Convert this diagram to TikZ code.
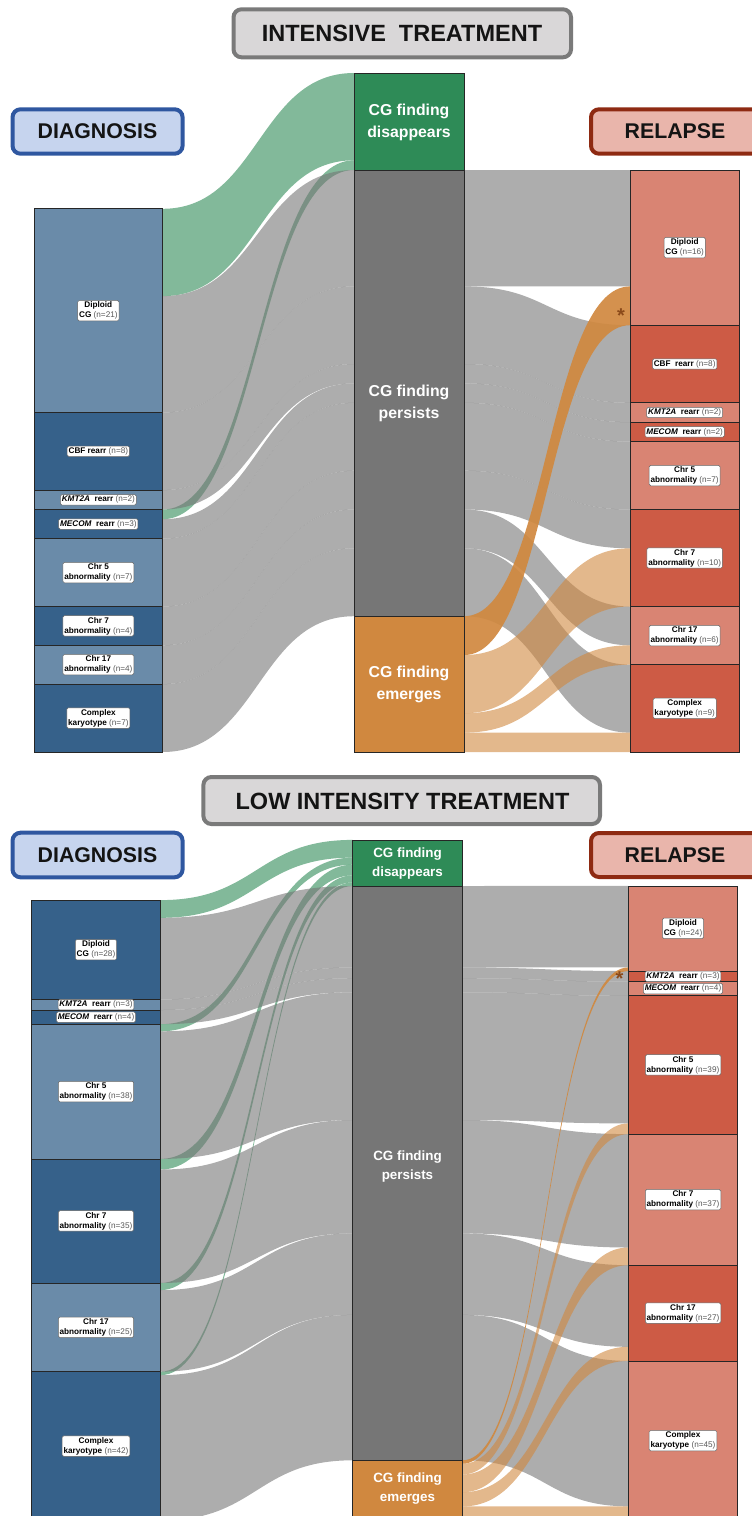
\documentclass[tikz,border=0pt]{standalone}
\usepackage{fontspec}
\setmainfont{Liberation Sans}
\definecolor{lblue}{HTML}{6A8BA9}
\definecolor{dblue}{HTML}{36618A}
\definecolor{lred}{HTML}{D98473}
\definecolor{dred}{HTML}{CD5B45}
\definecolor{cgreen}{HTML}{2E8B57}
\definecolor{cgray}{HTML}{767676}
\definecolor{corange}{HTML}{D0883F}
\definecolor{hgrayf}{HTML}{D9D7D8}
\definecolor{hgrayd}{HTML}{7A7A7A}
\definecolor{hbluef}{HTML}{C6D4EE}
\definecolor{hblued}{HTML}{2F57A0}
\definecolor{hredf}{HTML}{E9B5AB}
\definecolor{hredd}{HTML}{8E2A12}
\definecolor{starc}{HTML}{8B4A1A}
\newcommand{\nn}[1]{{\mdseries\color{black!65}(n=#1)}}
\newcommand{\FL}[5]{%
  \fill[#5] (\fxa,#1) .. controls (\fxm,#1) and (\fxm,#3) .. (\fxb,#3) -- (\fxb,#4) .. controls (\fxm,#4) and (\fxm,#2) .. (\fxa,#2) -- cycle;}
\begin{document}
\begin{tikzpicture}[x=1pt,y=-1pt,
  stratum/.style={draw=black!85, line width=0.7},
  lab/.style={fill=white, draw=black!60, line width=0.5, rounded corners=1.5, inner sep=1.4,
    font=\fontsize{8.2}{10}\selectfont\bfseries, align=center, text=black},
  midtop/.style={text=white, font=\fontsize{15.8}{22}\selectfont\bfseries, align=center},
  midbot/.style={text=white, font=\fontsize{13.4}{19}\selectfont\bfseries, align=center},
  hdrbox/.style={rounded corners=8, line width=4},
  ttl/.style={font=\fontsize{23.5}{26}\selectfont\bfseries, text=black!92, inner sep=0},
  hdr/.style={font=\fontsize{21.3}{24}\selectfont\bfseries, text=black!92, inner sep=0},
  startxt/.style={font=\fontsize{20}{20}\selectfont\bfseries, text=starc, inner sep=0},
  gflow/.style={fill=cgreen, fill opacity=0.6},
  pflow/.style={fill=cgray, fill opacity=0.6},
  oflow/.style={fill=corange, fill opacity=0.6},
  dflow/.style={fill=corange, fill opacity=0.92}]
\useasboundingbox (0,0) rectangle (752,1516);
\clip (0,0) rectangle (752,1516);

% ================= TOP PANEL =================
\draw[hdrbox, draw=hgrayd, fill=hgrayf] (233.5,9.3) rectangle (571,57.3);
\node[ttl] (ttitle) at (402,33.3) {INTENSIVE\ \ TREATMENT};
\draw[hdrbox, draw=hblued, fill=hbluef] (12.5,109.3) rectangle (182.6,153.7);
\node[hdr] (tdiag) at (97.5,131.5) {DIAGNOSIS};
\draw[hdrbox, draw=hredd, fill=hredf] (591,109.3) rectangle (775,153.7);
\node[hdr] (trel) at (675,131.5) {RELAPSE};

% flows left -> middle
\def\fxa{162.7}\def\fxb{354}\def\fxm{258.35}
\FL{208.8}{296.1}{73}{160.3}{gflow}
\FL{509.5}{519.2}{160.3}{170}{gflow}
\FL{296.1}{412.5}{170}{286.4}{pflow}
\FL{412.5}{490.1}{286.4}{364}{pflow}
\FL{490.1}{509.5}{364}{383.4}{pflow}
\FL{519.2}{538.6}{383.4}{402.8}{pflow}
\FL{538.6}{606.5}{402.8}{470.7}{pflow}
\FL{606.5}{645.3}{470.7}{509.5}{pflow}
\FL{645.3}{684.1}{509.5}{548.3}{pflow}
\FL{684.1}{752}{548.3}{616.2}{pflow}
% flows middle -> right
\def\fxa{464.3}\def\fxb{630}\def\fxm{547.15}
\FL{170}{286.4}{170}{286.4}{pflow}
\FL{286.4}{364}{325.2}{402.8}{pflow}
\FL{364}{383.4}{402.8}{422.2}{pflow}
\FL{383.4}{402.8}{422.2}{441.6}{pflow}
\FL{402.8}{470.7}{441.6}{509.5}{pflow}
\FL{470.7}{509.5}{509.5}{548.3}{pflow}
\FL{509.5}{548.3}{606.5}{645.3}{pflow}
\FL{548.3}{616.2}{664.7}{732.6}{pflow}
\FL{655}{713.2}{548.3}{606.5}{oflow}
\FL{713.2}{732.6}{645.3}{664.7}{oflow}
\FL{732.6}{752}{732.6}{752}{oflow}
\FL{616.2}{655}{286.4}{325.2}{dflow}

% strata left
\draw[stratum, fill=lblue] (34,208.8) rectangle (162.7,412.5);
\draw[stratum, fill=dblue] (34,412.5) rectangle (162.7,490.1);
\draw[stratum, fill=lblue] (34,490.1) rectangle (162.7,509.5);
\draw[stratum, fill=dblue] (34,509.5) rectangle (162.7,538.6);
\draw[stratum, fill=lblue] (34,538.6) rectangle (162.7,606.5);
\draw[stratum, fill=dblue] (34,606.5) rectangle (162.7,645.3);
\draw[stratum, fill=lblue] (34,645.3) rectangle (162.7,684.1);
\draw[stratum, fill=dblue] (34,684.1) rectangle (162.7,752);
% strata middle
\draw[stratum, fill=cgreen] (354,73) rectangle (464.3,170);
\draw[stratum, fill=cgray] (354,170) rectangle (464.3,616.2);
\draw[stratum, fill=corange] (354,616.2) rectangle (464.3,752);
% strata right
\draw[stratum, fill=lred] (630,170) rectangle (739.3,325.2);
\draw[stratum, fill=dred] (630,325.2) rectangle (739.3,402.8);
\draw[stratum, fill=lred] (630,402.8) rectangle (739.3,422.2);
\draw[stratum, fill=dred] (630,422.2) rectangle (739.3,441.6);
\draw[stratum, fill=lred] (630,441.6) rectangle (739.3,509.5);
\draw[stratum, fill=dred] (630,509.5) rectangle (739.3,606.5);
\draw[stratum, fill=lred] (630,606.5) rectangle (739.3,664.7);
\draw[stratum, fill=dred] (630,664.7) rectangle (739.3,752);

% labels
\node[lab] (tl1) at (98.35,310.65) {Diploid\\CG \nn{21}};
\node[lab] (tl2) at (98.35,451.3) {CBF rearr \nn{8}};
\node[lab] (tl3) at (98.35,499.8) {\textit{KMT2A}\ \ rearr \nn{2}};
\node[lab] (tl4) at (98.35,524.05) {\textit{MECOM}\ \ rearr \nn{3}};
\node[lab] (tl5) at (98.35,572.55) {Chr 5\\abnormality \nn{7}};
\node[lab] (tl6) at (98.35,625.9) {Chr 7\\abnormality \nn{4}};
\node[lab] (tl7) at (98.35,664.7) {Chr 17\\abnormality \nn{4}};
\node[lab] (tl8) at (98.35,718.05) {Complex\\karyotype \nn{7}};
\node[midtop] (tm1) at (409,122.5) {CG finding\\disappears};
\node[midtop] (tm2) at (409,403) {CG finding\\persists};
\node[midtop] (tm3) at (409,684.5) {CG finding\\emerges};
\node[lab] (tr1) at (684.65,247.6) {Diploid\\CG \nn{16}};
\node[lab] (tr2) at (684.65,364) {CBF\ \ rearr \nn{8}};
\node[lab] (tr3) at (684.65,412.5) {\textit{KMT2A}\ \ rearr \nn{2}};
\node[lab] (tr4) at (684.65,431.9) {\textit{MECOM}\ \ rearr \nn{2}};
\node[lab] (tr5) at (684.65,475.55) {Chr 5\\abnormality \nn{7}};
\node[lab] (tr6) at (684.65,558) {Chr 7\\abnormality \nn{10}};
\node[lab] (tr7) at (684.65,635.6) {Chr 17\\abnormality \nn{6}};
\node[lab] (tr8) at (684.65,708.35) {Complex\\karyotype \nn{9}};
\node[startxt] (tstar) at (621,316) {*};

% ================= BOTTOM PANEL =================
\draw[hdrbox, draw=hgrayd, fill=hgrayf] (203.4,777) rectangle (600,824);
\node[ttl] (btitle) at (402.5,801) {LOW INTENSITY TREATMENT};
\draw[hdrbox, draw=hblued, fill=hbluef] (12.5,832.7) rectangle (182.6,877.3);
\node[hdr] (bdiag) at (97.5,855) {DIAGNOSIS};
\draw[hdrbox, draw=hredd, fill=hredf] (591,833) rectangle (775,877);
\node[hdr] (brel) at (675,855) {RELAPSE};

% flows left -> middle
\def\fxa{160.7}\def\fxb{352.5}\def\fxm{256.6}
\FL{900.1}{917.8}{839.9}{857.6}{gflow}
\FL{1024.2}{1031.3}{857.6}{864.7}{gflow}
\FL{1158.9}{1169.5}{864.7}{875.4}{gflow}
\FL{1283.0}{1290.1}{875.4}{882.4}{gflow}
\FL{1371.6}{1375.1}{882.4}{886.0}{gflow}
\FL{917.8}{999.4}{886.0}{967.5}{pflow}
\FL{999.4}{1010.0}{967.5}{978.2}{pflow}
\FL{1010.0}{1024.2}{978.2}{992.3}{pflow}
\FL{1031.3}{1158.9}{992.3}{1120.0}{pflow}
\FL{1169.5}{1283.0}{1120.0}{1233.4}{pflow}
\FL{1290.1}{1371.6}{1233.4}{1314.9}{pflow}
\FL{1375.1}{1520.5}{1314.9}{1460.3}{pflow}
% flows middle -> right
\def\fxa{462.5}\def\fxb{628.3}\def\fxm{545.4}
\FL{886.0}{967.5}{885.9}{967.4}{pflow}
\FL{967.5}{978.2}{971.0}{981.6}{pflow}
\FL{978.2}{992.3}{981.6}{995.8}{pflow}
\FL{992.3}{1120.0}{995.8}{1123.4}{pflow}
\FL{1120.0}{1233.4}{1134.1}{1247.5}{pflow}
\FL{1233.4}{1314.9}{1265.2}{1346.8}{pflow}
\FL{1314.9}{1460.3}{1360.9}{1506.3}{pflow}
\FL{1463.8}{1474.5}{1123.4}{1134.1}{oflow}
\FL{1474.5}{1492.2}{1247.5}{1265.2}{oflow}
\FL{1492.2}{1506.4}{1346.8}{1360.9}{oflow}
\FL{1506.4}{1520.5}{1506.3}{1520.5}{oflow}
\FL{1460.3}{1463.8}{967.4}{971.0}{dflow}

% strata left
\draw[stratum, fill=dblue] (31.3,900.1) rectangle (160.7,999.4);
\draw[stratum, fill=lblue] (31.3,999.4) rectangle (160.7,1010.0);
\draw[stratum, fill=dblue] (31.3,1010.0) rectangle (160.7,1024.2);
\draw[stratum, fill=lblue] (31.3,1024.2) rectangle (160.7,1158.9);
\draw[stratum, fill=dblue] (31.3,1158.9) rectangle (160.7,1283.0);
\draw[stratum, fill=lblue] (31.3,1283.0) rectangle (160.7,1371.6);
\draw[stratum, fill=dblue] (31.3,1371.6) rectangle (160.7,1520.5);
% strata middle
\draw[stratum, fill=cgreen] (352.5,839.9) rectangle (462.5,886.0);
\draw[stratum, fill=cgray] (352.5,886.0) rectangle (462.5,1460.3);
\draw[stratum, fill=corange] (352.5,1460.3) rectangle (462.5,1520.5);
% strata right
\draw[stratum, fill=lred] (628.3,885.9) rectangle (737.7,971.0);
\draw[stratum, fill=dred] (628.3,971.0) rectangle (737.7,981.6);
\draw[stratum, fill=lred] (628.3,981.6) rectangle (737.7,995.8);
\draw[stratum, fill=dred] (628.3,995.8) rectangle (737.7,1134.1);
\draw[stratum, fill=lred] (628.3,1134.1) rectangle (737.7,1265.2);
\draw[stratum, fill=dred] (628.3,1265.2) rectangle (737.7,1360.9);
\draw[stratum, fill=lred] (628.3,1360.9) rectangle (737.7,1520.5);

% labels
\node[lab] (bl1) at (96,949.75) {Diploid\\CG \nn{28}};
\node[lab] (bl2) at (96,1004.7) {\textit{KMT2A}\ \ rearr \nn{3}};
\node[lab] (bl3) at (96,1017.1) {\textit{MECOM}\ \ rearr \nn{4}};
\node[lab] (bl4) at (96,1091.55) {Chr 5\\abnormality \nn{38}};
\node[lab] (bl5) at (96,1220.95) {Chr 7\\abnormality \nn{35}};
\node[lab] (bl6) at (96,1327.3) {Chr 17\\abnormality \nn{25}};
\node[lab] (bl7) at (96,1446.05) {Complex\\karyotype \nn{42}};
\node[midbot] (bm1) at (407.5,864) {CG finding\\disappears};
\node[midbot] (bm2) at (407.5,1167) {CG finding\\persists};
\node[midbot] (bm3) at (407.5,1489) {CG finding\\emerges};
\node[lab] (br1) at (683,928.45) {Diploid\\CG \nn{24}};
\node[lab] (br2) at (683,976.3) {\textit{KMT2A}\ \ rearr \nn{3}};
\node[lab] (br3) at (683,988.7) {\textit{MECOM}\ \ rearr \nn{4}};
\node[lab] (br4) at (683,1064.95) {Chr 5\\abnormality \nn{39}};
\node[lab] (br5) at (683,1199.65) {Chr 7\\abnormality \nn{37}};
\node[lab] (br6) at (683,1313.05) {Chr 17\\abnormality \nn{27}};
\node[lab] (br7) at (683,1440.7) {Complex\\karyotype \nn{45}};
\node[startxt] (bstar) at (619.5,978.5) {*};
\end{tikzpicture}
\end{document}
